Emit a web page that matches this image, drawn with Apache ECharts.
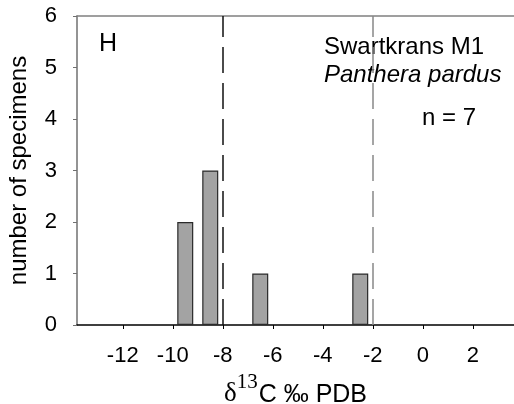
<!DOCTYPE html>
<html>
<head>
<meta charset="utf-8">
<script src="https://cdn.jsdelivr.net/npm/echarts@6/dist/echarts.min.js"></script>
<style>
  html, body { margin: 0; padding: 0; background: #fff; }
  #main { width: 514px; height: 404px; }
</style>
</head>
<body>
<div id="main"></div>
<script>
// histogram bins (centre of 1 permil bin) and counts
var binCenters = [-9.5, -8.5, -6.5, -2.5];
var counts = [2, 3, 1, 1];
var xTicks = [-12, -10, -8, -6, -4, -2, 0, 2];
var yTicks = [0, 1, 2, 3, 4, 5, 6];
var refLines = [-8, -2];

var chart = echarts.init(document.getElementById('main'));
var ff = '"Liberation Sans", Arial, sans-serif';
var serif = '"Liberation Serif", "DejaVu Serif", serif';

var barData = [];
for (var i = 0; i < binCenters.length; i++) {
    barData.push([binCenters[i], counts[i]]);
}

option = {
    animation: false,
    grid: { left: 77, right: 0, top: 16, bottom: 79, outerBoundsMode: 'none', containLabel: false },
    xAxis: [{
        type: 'value',
        min: -13.83,
        max: 3.65,
        position: 'bottom',
        name: '{d|δ}{s|13}{t|C ‰ PDB}',
        nameLocation: 'middle',
        nameGap: 41,
        nameTextStyle: {
            rich: {
                d: { fontFamily: serif, fontSize: 27, lineHeight: 36, verticalAlign: 'bottom', color: '#000' },
                s: { fontFamily: serif, fontSize: 21, lineHeight: 22, verticalAlign: 'top', padding: [0, 1, 0, 0], color: '#000' },
                t: { fontFamily: ff, fontSize: 25, lineHeight: 30, verticalAlign: 'bottom', color: '#000' }
            }
        },
        axisLine: { show: true, onZero: false, lineStyle: { color: '#000', width: 1.5 } },
        axisTick: { show: true, length: 4, customValues: xTicks, lineStyle: { color: '#000' } },
        axisLabel: {
            fontFamily: ff, fontSize: 22, color: '#000', margin: 20,
            customValues: xTicks
        },
        splitLine: { show: false }
    }, {
        type: 'value',
        min: -13.83,
        max: 3.65,
        position: 'top',
        axisLine: { show: true, onZero: false, lineStyle: { color: '#808080', width: 1.5 } },
        axisTick: { show: false },
        axisLabel: { show: false },
        splitLine: { show: false }
    }],
    yAxis: {
        type: 'value',
        min: 0,
        max: 6,
        interval: 1,
        name: 'number of specimens',
        nameLocation: 'middle',
        nameGap: 46,
        nameTextStyle: { fontFamily: ff, fontSize: 24, color: '#000' },
        axisLine: { show: true, onZero: false, lineStyle: { color: '#707070', width: 1.5 } },
        axisTick: { show: true, length: 4, lineStyle: { color: '#707070' } },
        axisLabel: {
            fontFamily: ff, fontSize: 22, color: '#000', margin: 20,
            customValues: yTicks
        },
        splitLine: { show: false }
    },
    graphic: [
        { type: 'text', left: 99, top: 32, style: { text: 'H', font: '25px ' + ff, fill: '#000' } },
        { type: 'text', left: 324, top: 35, style: { text: 'Swartkrans M1', font: '24px ' + ff, fill: '#000' } },
        { type: 'text', left: 324, top: 63, style: { text: 'Panthera pardus', font: 'italic 24px ' + ff, fill: '#000' } },
        { type: 'text', left: 422, top: 106, style: { text: 'n = 7', font: '24px ' + ff, fill: '#000' } }
    ],
    series: [{
        type: 'bar',
        data: barData,
        barWidth: 16,
        itemStyle: { color: '#a3a3a3', borderColor: '#2a2a2a', borderWidth: 1.2 },
        markLine: {
            silent: true,
            symbol: 'none',
            label: { show: false },
            data: [
                { xAxis: refLines[0], lineStyle: { color: '#111', width: 1.5, type: [26, 10] } },
                { xAxis: refLines[1], lineStyle: { color: '#888', width: 1.5, type: [26, 10] } }
            ]
        }
    }]
};

chart.setOption(option);
</script>
</body>
</html>
